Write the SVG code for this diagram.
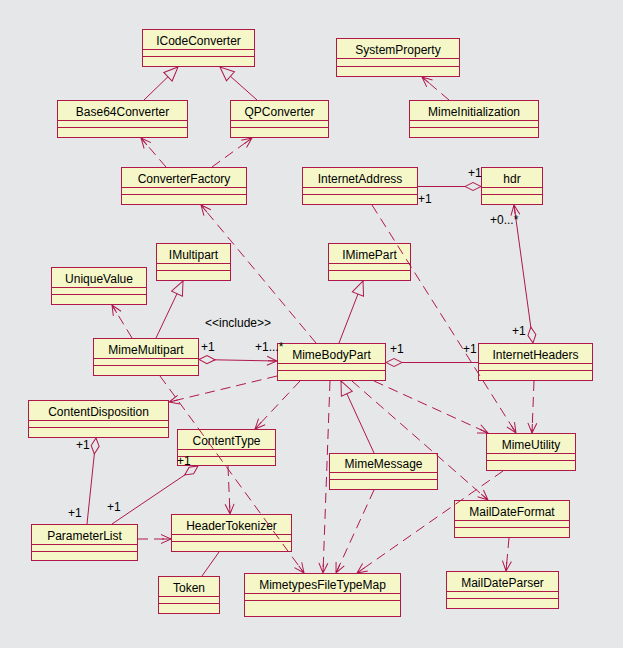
<svg xmlns="http://www.w3.org/2000/svg" width="623" height="648" viewBox="0 0 623 648">
<style>
.bg{fill:#e6e7e9}
.node rect{fill:#f5f7c8;stroke:#b0184a;stroke-width:1}
.node path{fill:none;stroke:#b0184a;stroke-width:1}
.node text{font-family:"Liberation Sans",Arial,sans-serif;font-size:12px;fill:#000;text-anchor:middle}
.c{fill:none;stroke:#b0184a;stroke-width:1}
.d{stroke-dasharray:10,6}
.lbl{font-family:"Liberation Sans",Arial,sans-serif;font-size:12px;fill:#000}
.mk{stroke:#b0184a;stroke-width:1;stroke-dasharray:none}
</style>
<defs>
<marker id="arr" markerUnits="userSpaceOnUse" markerWidth="12" markerHeight="12" viewBox="0 0 12 12" refX="11" refY="6" orient="auto"><path class="mk" d="M1,1.5 L11,6 L1,10.5 M11,6 L2,6" fill="none"/></marker>
<marker id="tri" markerUnits="userSpaceOnUse" markerWidth="16" markerHeight="14" viewBox="0 0 16 14" refX="15" refY="7" orient="auto"><path class="mk" d="M1,1 L15,7 L1,13 Z" fill="#e6e7e9"/></marker>
<marker id="dia" markerUnits="userSpaceOnUse" markerWidth="18" markerHeight="10" viewBox="0 0 18 10" refX="1" refY="5" orient="auto"><path class="mk" d="M1,5 L9,1 L17,5 L9,9 Z" fill="#e6e7e9"/></marker>
</defs>
<rect class="bg" x="0" y="0" width="623" height="648"/>
<g id="nodes">
<g id="ICodeConverter" class="node"><rect x="142.5" y="29.5" width="112" height="37"/><path d="M142.5,49.5H254.5M142.5,56.5H254.5"/><text x="198.5" y="45">ICodeConverter</text></g>
<g id="Base64Converter" class="node"><rect x="57.5" y="100.5" width="130" height="37"/><path d="M57.5,120.5H187.5M57.5,127.5H187.5"/><text x="122.5" y="116">Base64Converter</text></g>
<g id="QPConverter" class="node"><rect x="230.5" y="100.5" width="98" height="37"/><path d="M230.5,120.5H328.5M230.5,127.5H328.5"/><text x="279.5" y="116">QPConverter</text></g>
<g id="ConverterFactory" class="node"><rect x="121.5" y="167.5" width="125" height="37"/><path d="M121.5,187.5H246.5M121.5,194.5H246.5"/><text x="184" y="183">ConverterFactory</text></g>
<g id="SystemProperty" class="node"><rect x="336.5" y="38.5" width="123" height="38"/><path d="M336.5,58.5H459.5M336.5,66.5H459.5"/><text x="398" y="54">SystemProperty</text></g>
<g id="MimeInitialization" class="node"><rect x="409.5" y="100.5" width="129" height="37"/><path d="M409.5,120.5H538.5M409.5,127.5H538.5"/><text x="474" y="116">MimeInitialization</text></g>
<g id="InternetAddress" class="node"><rect x="302.5" y="167.5" width="115" height="37"/><path d="M302.5,187.5H417.5M302.5,194.5H417.5"/><text x="360" y="183">InternetAddress</text></g>
<g id="hdr" class="node"><rect x="481.5" y="167.5" width="61" height="37"/><path d="M481.5,187.5H542.5M481.5,194.5H542.5"/><text x="512" y="183">hdr</text></g>
<g id="IMultipart" class="node"><rect x="156.5" y="243.5" width="74" height="37"/><path d="M156.5,263.5H230.5M156.5,270.5H230.5"/><text x="193.5" y="259">IMultipart</text></g>
<g id="UniqueValue" class="node"><rect x="51.5" y="267.5" width="95" height="37"/><path d="M51.5,287.5H146.5M51.5,294.5H146.5"/><text x="99" y="283">UniqueValue</text></g>
<g id="IMimePart" class="node"><rect x="328.5" y="243.5" width="82" height="37"/><path d="M328.5,263.5H410.5M328.5,270.5H410.5"/><text x="369.5" y="259">IMimePart</text></g>
<g id="MimeMultipart" class="node"><rect x="93.5" y="338.5" width="105" height="37"/><path d="M93.5,358.5H198.5M93.5,365.5H198.5"/><text x="146" y="354">MimeMultipart</text></g>
<g id="MimeBodyPart" class="node"><rect x="277.5" y="343.5" width="108" height="37"/><path d="M277.5,363.5H385.5M277.5,370.5H385.5"/><text x="331.5" y="359">MimeBodyPart</text></g>
<g id="InternetHeaders" class="node"><rect x="478.5" y="343.5" width="114" height="37"/><path d="M478.5,363.5H592.5M478.5,370.5H592.5"/><text x="535.5" y="359">InternetHeaders</text></g>
<g id="ContentDisposition" class="node"><rect x="28.5" y="400.5" width="140" height="37"/><path d="M28.5,420.5H168.5M28.5,427.5H168.5"/><text x="98.5" y="416">ContentDisposition</text></g>
<g id="ContentType" class="node"><rect x="177.5" y="429.5" width="98" height="36"/><path d="M177.5,449.5H275.5M177.5,456.5H275.5"/><text x="226.5" y="445">ContentType</text></g>
<g id="MimeMessage" class="node"><rect x="329.5" y="453.5" width="108" height="36"/><path d="M329.5,472.5H437.5M329.5,479.5H437.5"/><text x="383.5" y="468">MimeMessage</text></g>
<g id="MimeUtility" class="node"><rect x="486.5" y="433.5" width="89" height="37"/><path d="M486.5,453.5H575.5M486.5,460.5H575.5"/><text x="531" y="449">MimeUtility</text></g>
<g id="ParameterList" class="node"><rect x="31.5" y="524.5" width="106" height="36"/><path d="M31.5,544.5H137.5M31.5,551.5H137.5"/><text x="84.5" y="540">ParameterList</text></g>
<g id="HeaderTokenizer" class="node"><rect x="171.5" y="514.5" width="120" height="37"/><path d="M171.5,534.5H291.5M171.5,541.5H291.5"/><text x="231.5" y="530">HeaderTokenizer</text></g>
<g id="MailDateFormat" class="node"><rect x="454.5" y="500.5" width="115" height="37"/><path d="M454.5,520.5H569.5M454.5,527.5H569.5"/><text x="512" y="516">MailDateFormat</text></g>
<g id="Token" class="node"><rect x="158.5" y="576.5" width="61" height="37"/><path d="M158.5,596.5H219.5M158.5,603.5H219.5"/><text x="189" y="592">Token</text></g>
<g id="MimetypesFileTypeMap" class="node"><rect x="244.5" y="573.5" width="156" height="43"/><path d="M244.5,593.5H400.5M244.5,600.5H400.5"/><text x="322.5" y="589">MimetypesFileTypeMap</text></g>
<g id="MailDateParser" class="node"><rect x="446.5" y="571.5" width="112" height="37"/><path d="M446.5,591.5H558.5M446.5,598.5H558.5"/><text x="502.5" y="587">MailDateParser</text></g>
</g>
<g id="connectors">
<path class="c" marker-end="url(#tri)" d="M144,100 L178,67"/>
<path class="c" marker-end="url(#tri)" d="M257,100 L220,67"/>
<path class="c" marker-end="url(#tri)" d="M156,338 L183,281"/>
<path class="c" marker-end="url(#tri)" d="M339,343 L363,281"/>
<path class="c" marker-end="url(#tri)" d="M374,453 L341,381"/>
<path class="c d" marker-end="url(#arr)" d="M166,167 L141,138"/>
<path class="c d" marker-end="url(#arr)" d="M212,167 L252,138"/>
<path class="c d" marker-end="url(#arr)" d="M316,343 L201,205"/>
<path class="c d" marker-end="url(#arr)" d="M449,100 L422,77"/>
<path class="c d" marker-end="url(#arr)" d="M372,205 L516,433"/>
<path class="c d" marker-end="url(#arr)" d="M132,338 L112,305"/>
<path class="c d" marker-end="url(#arr)" d="M277,376 L169,402"/>
<path class="c d" marker-end="url(#arr)" d="M160,376 L304,573"/>
<path class="c d" marker-end="url(#arr)" d="M300,381 L255,429"/>
<path class="c d" marker-end="url(#arr)" d="M228,466 L230,514"/>
<path class="c d" marker-end="url(#arr)" d="M138,539 L171,539"/>
<path class="c d" marker-end="url(#arr)" d="M330,381 L323,573"/>
<path class="c d" marker-end="url(#arr)" d="M374,490 L336,573"/>
<path class="c d" marker-end="url(#arr)" d="M374,381 L488,433"/>
<path class="c d" marker-end="url(#arr)" d="M352,381 L488,500"/>
<path class="c d" marker-end="url(#arr)" d="M534,381 L532,433"/>
<path class="c d" marker-end="url(#arr)" d="M503,471 L357,573"/>
<path class="c d" marker-end="url(#arr)" d="M509,538 L506,571"/>
<path class="c" marker-start="url(#dia)" d="M481,186.5 L418,186.5"/>
<path class="c" marker-start="url(#dia)" marker-end="url(#arr)" d="M533,343 L514,205"/>
<path class="c" marker-start="url(#dia)" marker-end="url(#arr)" d="M199,359.5 L277,361"/>
<path class="c" marker-start="url(#dia)" d="M386,362.5 L478,362.5"/>
<path class="c" marker-start="url(#dia)" d="M198,466 L112,524"/>
<path class="c" marker-start="url(#dia)" d="M96,438 L87,524"/>
<path class="c" d="M219,552 L202,576"/>
</g>
<g id="labels">
<text class="lbl" x="468" y="177">+1</text>
<text class="lbl" x="418" y="203">+1</text>
<text class="lbl" x="490" y="224">+0...*</text>
<text class="lbl" x="512" y="335">+1</text>
<text class="lbl" x="201" y="351">+1</text>
<text class="lbl" x="255" y="351">+1...*</text>
<text class="lbl" x="390" y="353">+1</text>
<text class="lbl" x="463" y="353">+1</text>
<text class="lbl" x="76" y="449">+1</text>
<text class="lbl" x="68" y="517">+1</text>
<text class="lbl" x="107" y="511">+1</text>
<text class="lbl" x="177" y="465">+1</text>
<text class="lbl" x="205" y="327">&lt;&lt;include&gt;&gt;</text>
</g>
</svg>
